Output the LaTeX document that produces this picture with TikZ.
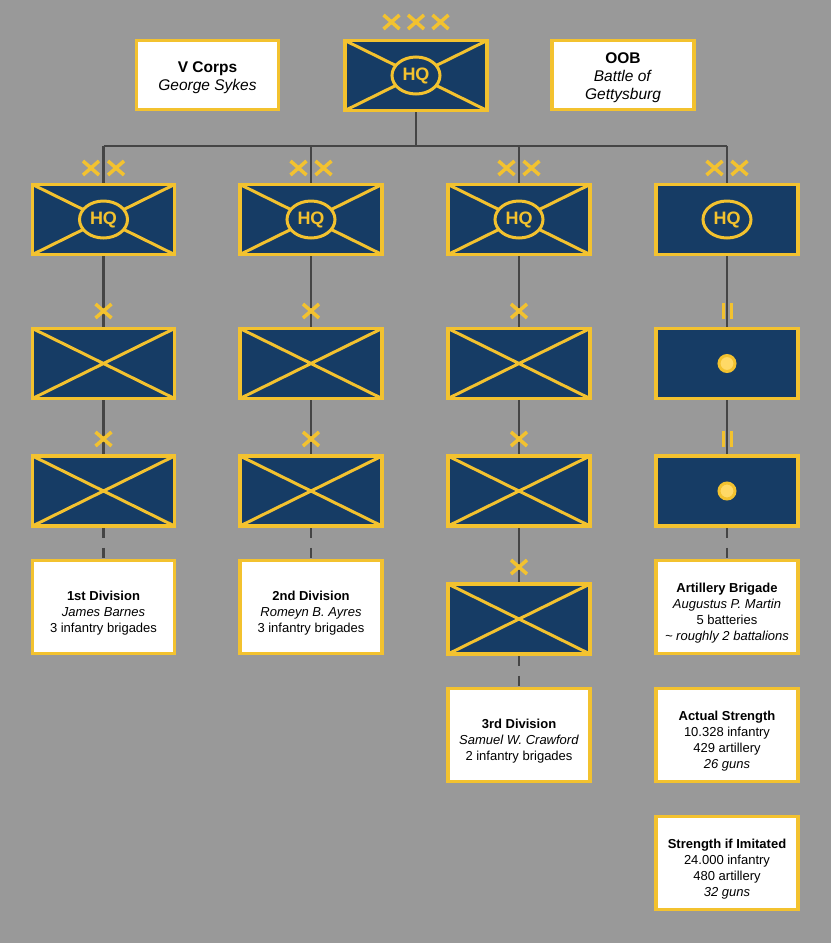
\documentclass[tikz,border=0pt]{standalone}
\usepackage{fontspec}
\setmainfont{Liberation Sans}
\usetikzlibrary{positioning,shapes.geometric}

\definecolor{bggray}{HTML}{999999}
\definecolor{unitblue}{HTML}{163C65}
\definecolor{gold}{HTML}{F3C22F}
\definecolor{dotgold}{HTML}{FFD966}
\definecolor{wire}{HTML}{454545}

\pgfdeclarelayer{back}
\pgfdeclarelayer{wires}
\pgfsetlayers{back,wires,main}

% text lines of a box, set a little below the middle
\newcommand\boxlines[2][6pt]{\raisebox{-#1}[\height][\depth]{\begin{tabular}{@{}c@{}}#2\end{tabular}}}

\tikzset{
  unit/.style={rectangle, draw=gold, fill=unitblue, line width=3.5pt,
    minimum width=142pt, minimum height=70pt, inner sep=0pt},
  crossed/.style={unit, path picture={
    \draw[gold, line width=3pt]
      (path picture bounding box.north west) -- (path picture bounding box.south east)
      (path picture bounding box.south west) -- (path picture bounding box.north east);}},
  hq/.style={ellipse, draw=gold, fill=unitblue, line width=3pt, minimum width=48pt,
    minimum height=37pt, inner sep=0pt, text=gold, font=\bfseries\fontsize{18}{18}\selectfont},
  gun/.style={circle, draw=gold, fill=dotgold, line width=3pt, minimum size=16pt, inner sep=0pt},
  info/.style={rectangle, draw=gold, fill=white, line width=3.5pt, minimum width=142pt,
    minimum height=93pt, inner sep=0pt, font=\fontsize{13}{16}\selectfont},
  title/.style={info, minimum height=69pt, font=\fontsize{15.5}{18}\selectfont},
  link/.style={draw=wire, line width=2.5pt},
  echelon/.style={gold, line width=3.5pt},
  xmark/.pic={\draw[echelon] (-8,-7) -- (8,7) (-8,7) -- (8,-7);},
  barmark/.pic={\draw[echelon] (-4,-8) -- (-4,8) (4,-8) -- (4,8);}
}

\begin{document}
\begin{tikzpicture}[x=1pt, y=-1pt]

\begin{pgfonlayer}{back}
  \fill[bggray] (0,0) rectangle (831,943);
\end{pgfonlayer}
\useasboundingbox (0,0) rectangle (831,943);

% Corps level
\node[crossed] (corps) at (416,75.5) {};
\node[hq] (corpshq) at (corps.center) {HQ};
\node[title] (vcorps) at (207.5,75) {\boxlines[3pt]{\textbf{V Corps}\\\textit{George Sykes}}};
\node[title] (oob) at (623,75) {\boxlines[3pt]{\textbf{OOB}\\\textit{Battle of}\\\textit{Gettysburg}}};
\foreach \dx in {-24.5,0,24.5}
  \pic at (416+\dx,22) {xmark};

% Divisions
\node[crossed] (div1) at (103.5,219.5) {};
\node[crossed] (div2) at (311,219.5) {};
\node[crossed] (div3) at (519,219.5) {};
\node[unit] (div4) at (727,219.5) {};
\foreach \n in {1,...,4}
  \node[hq] (hq\n) at (div\n.center) {HQ};
\foreach \x in {103.5,311,519,727} {
  \pic at (\x-12.5,168) {xmark};
  \pic at (\x+12.5,168) {xmark};
}

% Brigades
\node[crossed] (bde1a) at (103.5,363.5) {};
\node[crossed] (bde1b) at (103.5,491) {};
\node[crossed] (bde2a) at (311,363.5) {};
\node[crossed] (bde2b) at (311,491) {};
\node[crossed] (bde3a) at (519,363.5) {};
\node[crossed] (bde3b) at (519,491) {};
\node[crossed] (bde3c) at (519,619) {};
\foreach \x/\y in {103.5/311, 103.5/439, 311/311, 311/439, 519/311, 519/439, 519/567}
  \pic at (\x,\y) {xmark};

% Artillery battalions
\node[unit] (art1) at (727,363.5) {};
\node[unit] (art2) at (727,491) {};
\node[gun] (gun1) at (art1.center) {};
\node[gun] (gun2) at (art2.center) {};
\foreach \y in {311,439}
  \pic at (727.5,\y) {barmark};

% Text boxes
\node[info] (first) at (103.5,607) {\boxlines{\textbf{1st Division}\\\textit{James Barnes}\\3 infantry brigades}};
\node[info] (second) at (311,607) {\boxlines{\textbf{2nd Division}\\\textit{Romeyn B. Ayres}\\3 infantry brigades}};
\node[info] (third) at (519,735) {\boxlines{\textbf{3rd Division}\\\textit{Samuel W. Crawford}\\2 infantry brigades}};
\node[info] (artbde) at (727,607) {\boxlines{\textbf{Artillery Brigade}\\\textit{Augustus P. Martin}\\5 batteries\\\textit{\textasciitilde{} roughly 2 battalions}}};
\node[info] (actual) at (727,735) {\boxlines{\textbf{Actual Strength}\\10.328 infantry\\429 artillery\\\textit{26 guns}}};
\node[info] (imitated) at (727,863) {\boxlines{\textbf{Strength if Imitated}\\24.000 infantry\\480 artillery\\\textit{32 guns}}};

% Connectors
\coordinate (bus) at (416,146);
\begin{pgfonlayer}{wires}
  \draw[link] (corps.south) -- (bus);
  \draw[link] (div1.north |- bus) -- (div4.north |- bus);
  \foreach \n in {1,...,4}
    \draw[link] (div\n.north |- bus) -- (div\n.north);
  \draw[link] (div1.south) -- (bde1a.north) (bde1a.south) -- (bde1b.north);
  \draw[link] (div2.south) -- (bde2a.north) (bde2a.south) -- (bde2b.north);
  \draw[link] (div3.south) -- (bde3a.north) (bde3a.south) -- (bde3b.north)
    (bde3b.south) -- (bde3c.north);
  \draw[link] (div4.south) -- (art1.north) (art1.south) -- (art2.north);
  \draw[link, dash pattern=on 10pt off 10pt] (bde1b.south) -- (first.north);
  \draw[link, dash pattern=on 10pt off 10pt] (bde2b.south) -- (second.north);
  \draw[link, dash pattern=on 10pt off 10pt] (bde3c.south) -- (third.north);
  \draw[link, dash pattern=on 10pt off 10pt] (art2.south) -- (artbde.north);
\end{pgfonlayer}

\end{tikzpicture}
\end{document}
